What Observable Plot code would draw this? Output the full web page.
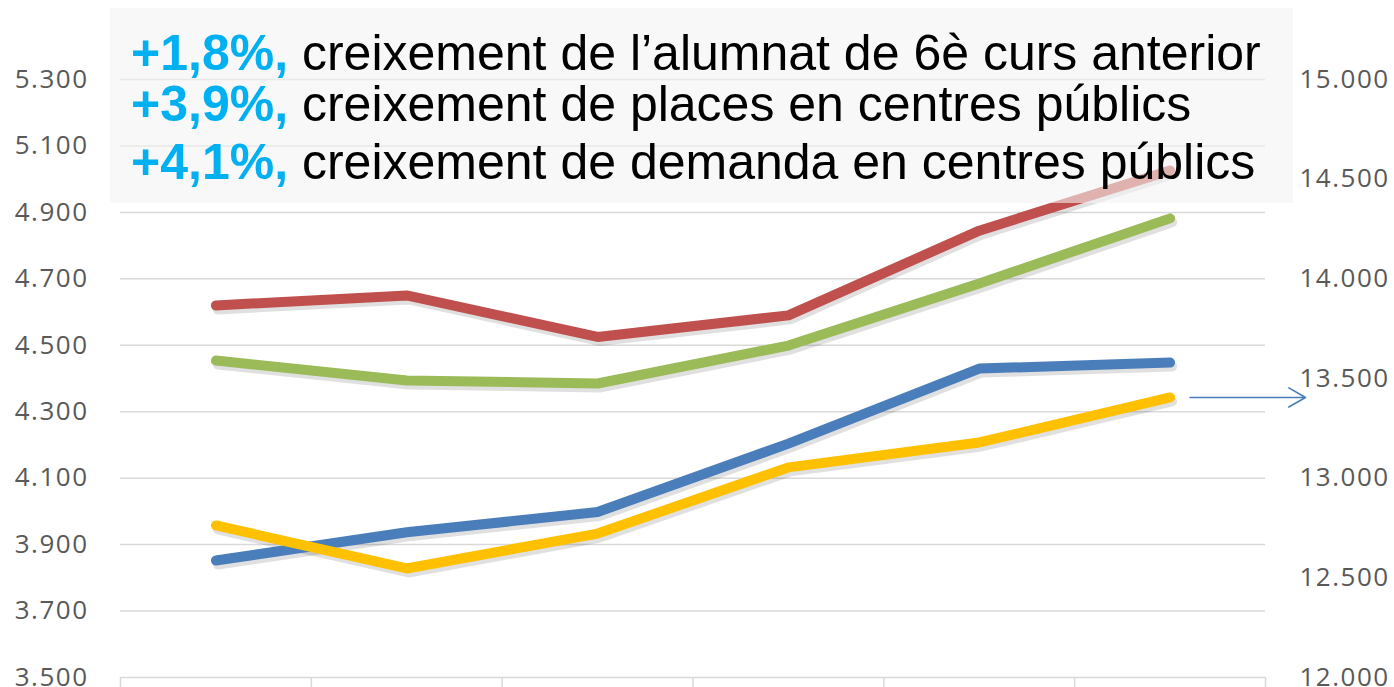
<!DOCTYPE html>
<html>
<head>
<meta charset="utf-8">
<script src="https://cdn.jsdelivr.net/npm/d3@7"></script>
<script src="https://cdn.jsdelivr.net/npm/@observablehq/plot@0.6"></script>
<style>
  html, body { margin: 0; padding: 0; background: #fff; }
  #wrap { position: relative; width: 1394px; height: 687px; overflow: hidden; }
  #box { position: absolute; left: 110px; top: 8px; width: 1183px; height: 195px;
         background: rgba(244,244,244,0.6); }
  .l { position: absolute; left: 131px; font-family: "Liberation Sans", Arial, sans-serif;
       font-size: 50px; line-height: 50px; color: #000; white-space: nowrap; }
  .l b { color: #00b0f0; font-weight: bold; }
</style>
</head>
<body>
<div id="wrap"></div>
<script>
// Cursos (eix X; les etiquetes queden tallades a la imatge)
const cursos = [0, 1, 2, 3, 4, 5];
// Sèries de l'eix esquerre
const serieVermella = [4620, 4650, 4525, 4590, 4845, 5026];
const serieVerda    = [4454, 4394, 4385, 4499, 4686, 4882];
const serieBlava    = [3852, 3937, 3998, 4204, 4430, 4448];
// Sèrie de l'eix dret (alumnat de 6è curs anterior)
const serieGroga    = [12763, 12547, 12722, 13054, 13179, 13405];
// Marques dels eixos
const ticksEsquerra = [3500, 3700, 3900, 4100, 4300, 4500, 4700, 4900, 5100, 5300];
const ticksDreta    = [12000, 12500, 13000, 13500, 14000, 14500, 15000];
// Textos
const textos = [
  ["+1,8%,", " creixement de l’alumnat de 6è curs anterior"],
  ["+3,9%,", " creixement de places en centres públics"],
  ["+4,1%,", " creixement de demanda en centres públics"]
];

const fmt = d3.formatLocale({decimal: ",", thousands: ".", grouping: [3], currency: ["", "€"]}).format(",");
const toLeft = d3.scaleLinear().domain([ticksDreta[0], ticksDreta[ticksDreta.length - 1]])
                               .range([ticksEsquerra[0], ticksEsquerra[ticksEsquerra.length - 1]]);

const rows = (vals, right) => cursos.map((c, i) => ({curs: c, valor: right ? toLeft(vals[i]) : vals[i]}));
const series = [
  {data: rows(serieBlava, false), color: "#4a7ebb"},
  {data: rows(serieVermella, false), color: "#c0504d"},
  {data: rows(serieVerda, false), color: "#9bbb59"},
  {data: rows(serieGroga, true), color: "#ffc000"}
];
const limits = cursos.map(c => c - 0.5).concat([cursos[cursos.length - 1] + 0.5]);
const last = series[3].data[series[3].data.length - 1];

const marks = [
  Plot.gridY(ticksEsquerra, {stroke: "#d9d9d9", strokeOpacity: 1, strokeWidth: 1.5}),
  Plot.ruleX(limits, {x: d => d, y1: ticksEsquerra[0], y2: ticksEsquerra[0] - 40, stroke: "#d9d9d9", strokeWidth: 1.5}),
  Plot.axisY(ticksEsquerra, {anchor: "left", label: null, tickSize: 0, tickPadding: 32, tickFormat: fmt,
                             fontSize: 26, fill: "#595959"}),
  Plot.axisY(ticksDreta.map(toLeft), {anchor: "right", label: null, tickSize: 0, tickPadding: 34,
                             tickFormat: d => fmt(Math.round(toLeft.invert(d))), fontSize: 26, fill: "#595959"})
];
for (const s of series) {
  marks.push(Plot.line(s.data, {x: "curs", y: "valor", stroke: "#000", strokeOpacity: 0.12,
    strokeWidth: 10, strokeLinecap: "round", strokeLinejoin: "round", dx: 2, dy: 4}));
}
for (const s of series) {
  marks.push(Plot.line(s.data, {x: "curs", y: "valor", stroke: s.color,
    strokeWidth: 10, strokeLinecap: "round", strokeLinejoin: "round"}));
}
marks.push(Plot.arrow([last], {x1: "curs", x2: d => d.curs + 0.5, y1: "valor", y2: "valor",
  stroke: "#4a7ebb", strokeWidth: 1.6, headLength: 18, insetStart: 20, insetEnd: -40}));

const chart = Plot.plot({
  width: 1394, height: 687,
  marginLeft: 120, marginRight: 129, marginTop: 79, marginBottom: 10,
  x: {domain: [limits[0], limits[limits.length - 1]], axis: null},
  y: {domain: [ticksEsquerra[0], ticksEsquerra[ticksEsquerra.length - 1]], axis: null},
  style: {fontFamily: "'Open Sans', sans-serif", color: "#595959", background: "#fff",
          overflow: "visible", letterSpacing: "1.5px"},
  marks
});
const wrap = document.getElementById("wrap");
wrap.appendChild(chart);
const box = document.createElement("div");
box.id = "box";
wrap.appendChild(box);
const tops = [28, 79, 137];
textos.forEach((t, i) => {
  const d = document.createElement("div");
  d.className = "l";
  d.style.top = tops[i] + "px";
  const b = document.createElement("b");
  b.textContent = t[0];
  d.appendChild(b);
  d.appendChild(document.createTextNode(t[1]));
  wrap.appendChild(d);
});
</script>
</body>
</html>
